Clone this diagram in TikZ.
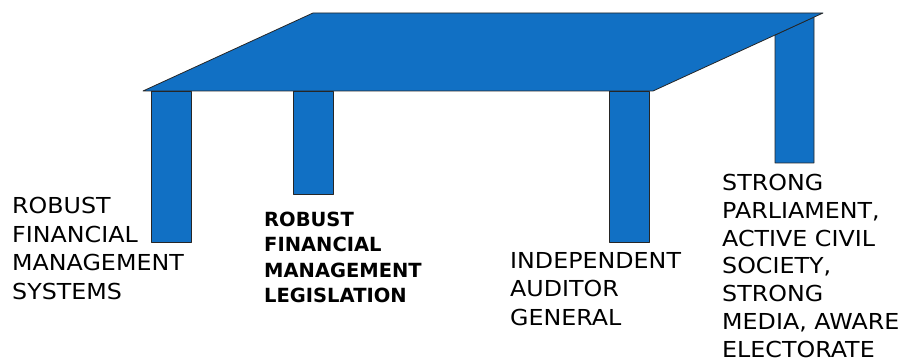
\documentclass[tikz,border=0pt]{standalone}
\usepackage{fontspec}
\newfontfamily\comicfont[FakeStretch=1.08]{DejaVu Sans}
\newfontfamily\plainfont{DejaVu Sans}
\definecolor{tableblue}{RGB}{17,112,196}

\begin{document}
\begin{tikzpicture}[x=1pt,y=-1pt]
    \useasboundingbox (0,0) rectangle (909,363);
    \tikzset{
        wood/.style={fill=tableblue, draw=black!85, line width=0.8pt, line join=round},
        legtext/.style={anchor=north west, inner sep=0pt, align=left,
            font=\comicfont\fontsize{22}{28.5}\selectfont}
    }

    % Back Leg (hidden behind the top)
    \filldraw[wood] (775,35) -- (814,17) -- (814,163) -- (775,163) -- cycle;

    % Table Top
    \filldraw[wood] (143,91) -- (313,13) -- (823,13) -- (653,91) -- cycle;

    % Front Legs
    \filldraw[wood] (151,91) rectangle (191,242);
    \filldraw[wood] (293,91) rectangle (333,194);
    \filldraw[wood] (609,91) rectangle (649,242);

    % Leg Labels
    \node[legtext] (systems) at (12,197) {ROBUST\\FINANCIAL\\MANAGEMENT\\SYSTEMS};
    \node[legtext, font=\plainfont\bfseries\fontsize{19.5}{25.3}\selectfont]
        (legislation) at (264,212) {ROBUST\\FINANCIAL\\MANAGEMENT\\LEGISLATION};
    \node[legtext] (auditor) at (510,252) {INDEPENDENT\\AUDITOR\\GENERAL};
    \node[legtext, font=\comicfont\fontsize{22}{27.8}\selectfont] (oversight) at (722,174)
        {STRONG\\PARLIAMENT,\\ACTIVE CIVIL\\SOCIETY,\\STRONG\\MEDIA, AWARE\\ELECTORATE};
\end{tikzpicture}
\end{document}
